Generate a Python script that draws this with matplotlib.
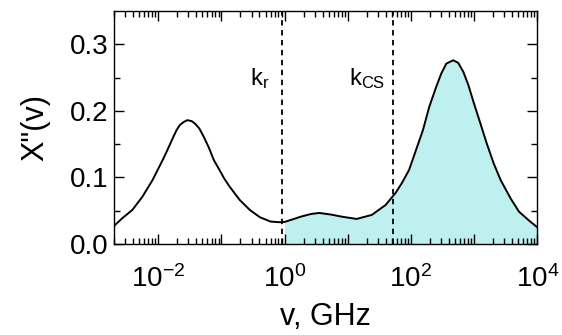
import numpy as np
import matplotlib.pyplot as plt
from matplotlib.ticker import LogLocator, NullFormatter

plt.rcParams['font.family'] = ['Liberation Sans', 'DejaVu Sans']
plt.rcParams['mathtext.default'] = 'regular'

# spectrum: log10(nu / GHz) and chi''
log_freq = [-2.70, -2.57, -2.41, -2.25, -2.09, -1.93, -1.87, -1.76, -1.71,
            -1.66, -1.60, -1.54, -1.47, -1.42, -1.35, -1.28, -1.20, -1.12,
            -1.03, -0.96, -0.87, -0.71, -0.55, -0.39, -0.22, -0.06, 0.0,
            0.10, 0.26, 0.42, 0.55, 0.74, 0.90, 1.14, 1.38, 1.60, 1.76,
            1.86, 1.97, 2.08, 2.19, 2.29, 2.40, 2.48, 2.56, 2.67, 2.75,
            2.83, 2.91, 2.99, 3.10, 3.20, 3.31, 3.42, 3.58, 3.71, 3.87, 4.0]
chi = [0.027, 0.0385, 0.051, 0.071, 0.096, 0.126, 0.138, 0.161, 0.171,
       0.1785, 0.183, 0.186, 0.1845, 0.181, 0.1735, 0.161, 0.145, 0.126,
       0.111, 0.099, 0.086, 0.066, 0.051, 0.040, 0.0335, 0.0325, 0.033,
       0.036, 0.041, 0.045, 0.0465, 0.044, 0.041, 0.0375, 0.0435, 0.0585, 0.077,
       0.092, 0.111, 0.141, 0.171, 0.206, 0.236, 0.256, 0.271, 0.276, 0.272,
       0.2585, 0.2385, 0.2135, 0.181, 0.151, 0.121, 0.096, 0.068, 0.0485, 0.035, 0.025]

k_r = 0.9
k_cs = 52
fill_from = 1.0

freq = 10 ** np.array(log_freq)
chi = np.array(chi)

fig = plt.figure(figsize=(5.62, 3.35), dpi=100)
ax = fig.add_axes([0.203, 0.272, 0.753, 0.695])

mask = freq >= fill_from
ax.fill_between(freq[mask], 0, chi[mask], color='#bff0f0', lw=0)
ax.plot(freq, chi, color='black', lw=1.4, solid_joinstyle='round')

for xv in (k_r, k_cs):
    ax.axvline(xv, color='black', lw=1.3, ls=(0, (3, 2.5)))

ax.text(k_r * 0.64, 0.238, 'k$_r$', fontsize=17, ha='right', va='baseline')
ax.text(k_cs * 0.76, 0.238, 'k$_{CS}$', fontsize=17, ha='right', va='baseline')

ax.set_xscale('log')
ax.set_xlim(2e-3, 1e4)
ax.set_ylim(0, 0.35)

decades = [1e-2, 1e-1, 1, 1e1, 1e2, 1e3, 1e4]
labels = ['10$^{-2}$', '', '10$^{0}$', '', '10$^{2}$', '', '10$^{4}$']
ax.set_xticks(decades)
ax.set_xticklabels(labels)
ax.xaxis.set_minor_locator(LogLocator(base=10, subs=np.arange(2, 10), numticks=20))
ax.xaxis.set_minor_formatter(NullFormatter())
ax.set_yticks([0.0, 0.1, 0.2, 0.3])
ax.set_yticklabels(['0.0', '0.1', '0.2', '0.3'])
ax.set_yticks(np.arange(0.05, 0.35, 0.1), minor=True)

ax.tick_params(which='both', direction='in', top=True, right=True, width=1, labelsize=20)
ax.tick_params(which='major', length=7)
ax.tick_params(which='minor', length=4)
ax.tick_params(axis='x', which='major', pad=15)
ax.tick_params(axis='y', which='major', pad=4)
for s in ax.spines.values():
    s.set_linewidth(1)

ax.set_xlabel('v, GHz', fontsize=22, labelpad=7)
ax.set_ylabel('X"(v)', fontsize=22, labelpad=14)

fig.savefig('out.png', dpi=100)
